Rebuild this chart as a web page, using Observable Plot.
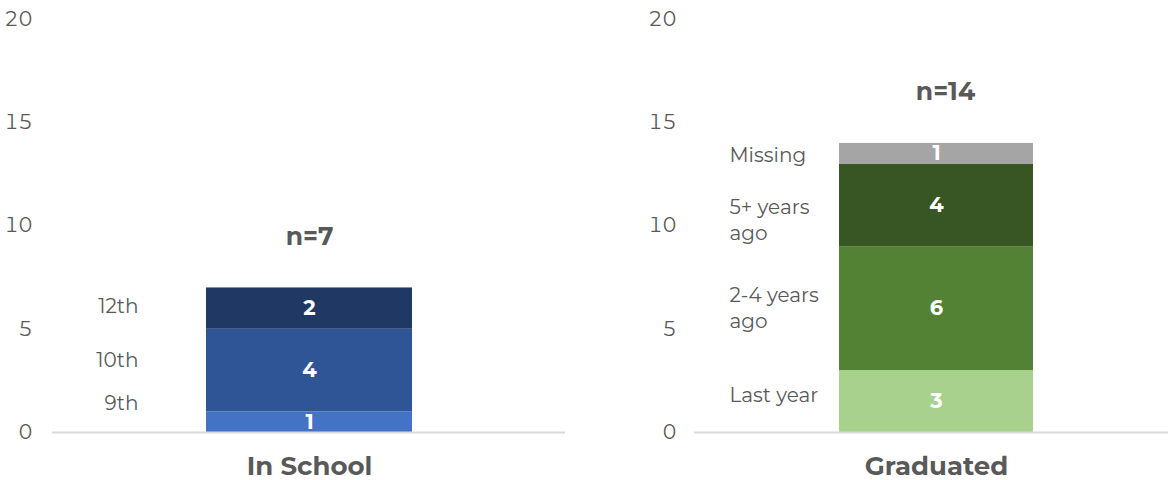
<!DOCTYPE html>
<html>
<head>
<meta charset="utf-8">
<script src="https://cdn.jsdelivr.net/npm/d3@7"></script>
<script src="https://cdn.jsdelivr.net/npm/@observablehq/plot@0.6"></script>
<style>
  html, body { margin: 0; padding: 0; background: #fff; }
  #wrap { display: flex; width: 1170px; height: 480px; }
</style>
</head>
<body>
<div id="wrap"></div>
<script>
// ---- data ----
const groups = ["In School", "Graduated"];
const schoolCats = ["9th", "10th", "12th"];
const schoolVals = [1, 4, 2];
const gradCats = ["Last year", "2-4 years ago", "5+ years ago", "Missing"];
const gradVals = [3, 6, 4, 1];
const yTicks = [0, 5, 10, 15, 20];

// ---- styles ----
const schoolColors = ["#4472C4", "#2F5597", "#1F3864"];
const gradColors = ["#A9D18E", "#548235", "#375623", "#A5A5A5"];
const FONT = "Montserrat, 'Open Sans', sans-serif";
const GREY = "#595959";

function panel({group, cats, vals, colors, width, marginLeft, marginRight, tickPadding, padding, align,
                labelDx, labelAnchor, labelNudge, nDx}) {
  const data = cats.map((c, i) => ({group, cat: c, value: vals[i]}));
  const total = d3.sum(vals);
  // stacked midpoints for side labels
  let acc = 0;
  const mids = vals.map(v => { const m = acc + v / 2; acc += v; return m; });
  const sideLabels = data.map((d, i) =>
    Plot.text([d], {x: "group", y: () => mids[i], text: d => d.cat.replace(" ago", "\nago"),
      fill: GREY, fontSize: 20, textAnchor: labelAnchor, dx: labelDx, dy: labelNudge[i], lineHeight: 1.3}));
  return Plot.plot({
    width,
    height: 480,
    marginTop: 19,
    marginBottom: 48,
    marginLeft,
    marginRight,
    style: {fontFamily: FONT, color: GREY, background: "white", overflow: "visible"},
    x: {domain: [group], padding, align, label: null},
    y: {domain: [0, 20], label: null},
    color: {domain: cats, range: colors},
    marks: [
      Plot.axisY(yTicks, {tickSize: 0, tickPadding, fontSize: 20, fill: GREY}),
      Plot.axisX({tickSize: 0, tickPadding: 24, fontSize: 26, fontWeight: "bold", fill: GREY}),
      Plot.barY(data, {x: "group", y: "value", fill: "cat"}),
      Plot.ruleY([0], {stroke: "#D9D9D9", strokeWidth: 2}),
      Plot.text(data, Plot.stackY({x: "group", y: "value",
        text: d => String(d.value), fill: "white", fontSize: 21, fontWeight: "bold"})),
      ...sideLabels,
      Plot.text([total], {x: () => group, y: d => d, text: d => "n=" + d,
        dy: -51, dx: nDx, fontSize: 25, fontWeight: "bold", fill: GREY})
    ]
  });
}

const wrap = document.getElementById("wrap");
wrap.append(panel({
  group: groups[0], cats: schoolCats, vals: schoolVals, colors: schoolColors,
  width: 585, marginLeft: 52, marginRight: 20, tickPadding: 20, padding: 0.427, align: 0.5,
  labelDx: -171, labelAnchor: "end", labelNudge: [-21, -12, -4], nDx: 0
}));
wrap.append(panel({
  group: groups[1], cats: gradCats, vals: gradVals, colors: gradColors,
  width: 585, marginLeft: 109, marginRight: 2, tickPadding: 18, padding: 0.418, align: 0.518,
  labelDx: -207, labelAnchor: "start", labelNudge: [-8, -2, 13, 0], nDx: 9
}));
</script>
</body>
</html>
